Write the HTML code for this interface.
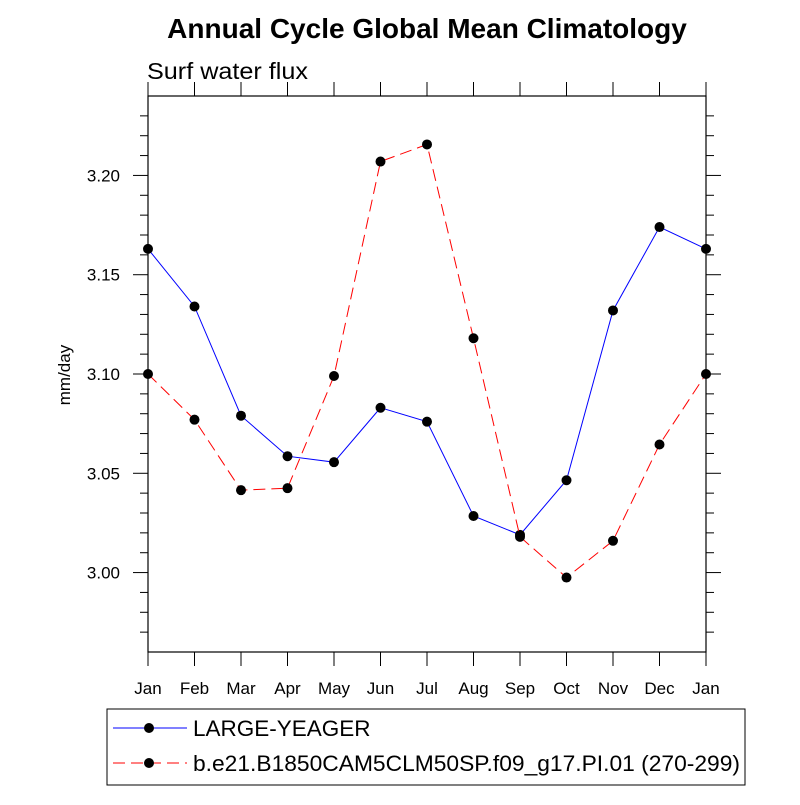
<!DOCTYPE html>
<html><head><meta charset="utf-8"><style>
body{margin:0;background:#fff;}
svg text{font-family:"Liberation Sans",Arial,sans-serif;fill:#000;}
</style></head><body>
<svg id="chart" width="800" height="800" viewBox="0 0 800 800">
<text x="427" y="38" font-size="28" font-weight="bold" text-anchor="middle">Annual Cycle Global Mean Climatology</text>
<text x="147" y="79" font-size="23" textLength="161" lengthAdjust="spacingAndGlyphs">Surf water flux</text>
<text transform="translate(70,375) rotate(-90)" font-size="17" text-anchor="middle">mm/day</text>
<rect x="148" y="96" width="558" height="556" fill="none" stroke="#000" stroke-width="1.2"/>
<g id="axes"></g>
<g id="series"></g>
<rect x="107" y="709" width="638" height="76" fill="none" stroke="#000" stroke-width="1"/>
<g>
<line x1="113" y1="728" x2="187" y2="728" stroke="#0000ff" stroke-width="1"/>
<circle cx="149" cy="728" r="5" fill="#000"/>
<text x="193" y="736" font-size="22.5">LARGE-YEAGER</text>
</g>
<g>
<line x1="113" y1="763" x2="187" y2="763" stroke="#ff0000" stroke-width="1" stroke-dasharray="12,6"/>
<circle cx="149" cy="763" r="5" fill="#000"/>
<text x="193" y="771" font-size="22.5" textLength="547" lengthAdjust="spacingAndGlyphs">b.e21.B1850CAM5CLM50SP.f09_g17.PI.01 (270-299)</text>
</g>
</svg>
<script>
const months=["Jan","Feb","Mar","Apr","May","Jun","Jul","Aug","Sep","Oct","Nov","Dec","Jan"];
const largeYeager=[3.163,3.134,3.079,3.0586,3.0556,3.083,3.076,3.0285,3.019,3.0465,3.132,3.174,3.163];
const b1850=[3.100,3.077,3.0415,3.0425,3.099,3.207,3.2156,3.118,3.018,2.9975,3.016,3.0645,3.100];
const yTicks=["3.00","3.05","3.10","3.15","3.20"];
const yMin=2.96,yMax=3.24;
const X0=148,X1=706,Y0=652,Y1=96;
const NS="http://www.w3.org/2000/svg";
function xs(i){return X0+(X1-X0)*i/(months.length-1);}
function ys(v){return Y0-(Y0-Y1)*(v-yMin)/(yMax-yMin);}
function mk(tag,attrs,parent){const e=document.createElementNS(NS,tag);for(const k in attrs)e.setAttribute(k,attrs[k]);parent.appendChild(e);return e;}
const ax=document.getElementById('axes');
for(let k=Math.ceil(yMin*100+1e-6);k<=Math.floor(yMax*100-1e-6);k++){
  const y=ys(k/100);const major=(k%5===0);const L=major?15:8;
  const a=mk('line',{x1:X0-L,x2:X0,y1:y,y2:y,stroke:'#000','stroke-width':1},ax);
  
  
  const b=mk('line',{x1:X1,x2:X1+L,y1:y,y2:y,stroke:'#000','stroke-width':1},ax);
  
  
}
yTicks.forEach(t=>{
  const y=ys(parseFloat(t));
  const tx=mk('text',{x:X0-28,y:y+6,'font-size':17,'text-anchor':'end'},ax);
  tx.textContent=t;
  
  
});
months.forEach((m,i)=>{
  const x=xs(i);
  const a=mk('line',{x1:x,x2:x,y1:Y0,y2:Y0+14,stroke:'#000','stroke-width':1},ax);
  
  
  const b=mk('line',{x1:x,x2:x,y1:Y1-14,y2:Y1,stroke:'#000','stroke-width':1},ax);
  
  
  const tx=mk('text',{x:x,y:Y0+42,'font-size':17,'text-anchor':'middle'},ax);
  tx.textContent=m;
  
  
});
const sg=document.getElementById('series');
function drawSeries(vals,color,dash,name){
  const g=mk('g',{},sg);
  
  
  const pts=vals.map((v,i)=>xs(i)+','+ys(v)).join(' ');
  const attrs={points:pts,fill:'none',stroke:color,'stroke-width':1};
  if(dash)attrs['stroke-dasharray']=dash;
  const pl=mk('polyline',attrs,g);
  
  
  vals.forEach((v,i)=>{
    const c=mk('circle',{cx:xs(i),cy:ys(v),r:5,fill:'#000'},g);
    
    
  });
}
drawSeries(largeYeager,'#0000ff',null,'large-yeager-series');
drawSeries(b1850,'#ff0000','12,6','b1850-series');
</script>
</body></html>
